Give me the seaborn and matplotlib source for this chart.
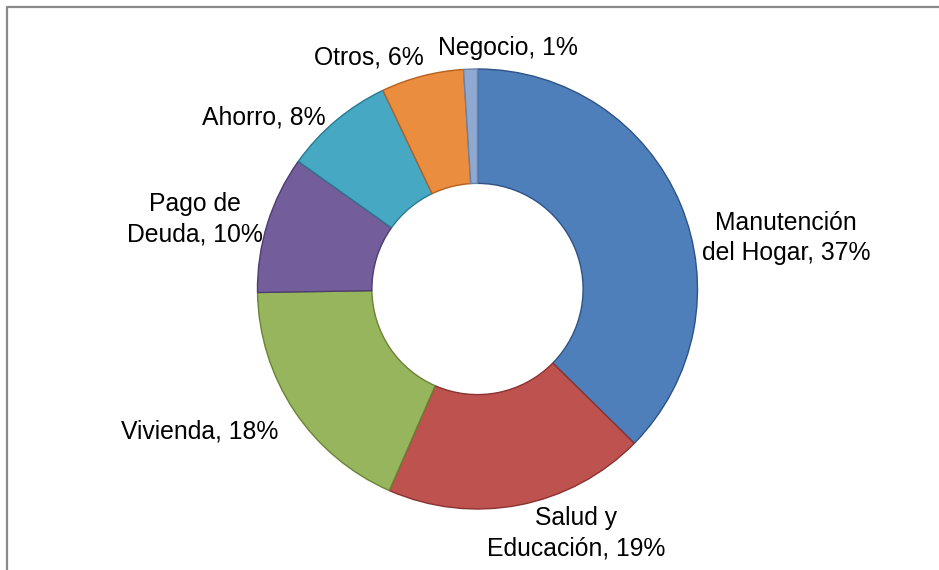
import matplotlib
matplotlib.use("Agg")
import matplotlib.pyplot as plt
from matplotlib.lines import Line2D
import seaborn as sns

# Data
categories = ["Manutención\ndel Hogar", "Salud y\nEducación", "Vivienda",
              "Pago de\nDeuda", "Ahorro", "Otros", "Negocio"]
values = [37, 19, 18, 10, 8, 6, 1]
colors = ["#4F7FBA", "#BE524F", "#97B55C", "#735D9A", "#47A8C4", "#EA8D3E", "#8FA9D3"]
edge_colors = ["#2E5385", "#8A3331", "#6A8436", "#4E3D70", "#2B7891", "#B5611F", "#6A82A8"]

# label anchor positions in pixel coords (x from left, y from top) of the 939x570 canvas
label_px = [(786, 238), (576, 533), (200, 432), (195, 219), (264, 118), (369, 57), (508, 48)]

sns.set_theme(style="white")
plt.rcParams["font.family"] = ["Liberation Sans", "DejaVu Sans"]

W, H, DPI = 939, 570, 100
fig = plt.figure(figsize=(W / DPI, H / DPI), dpi=DPI)
fig.patch.set_facecolor("white")

cx, cy, R = 477.5, 289.0, 220.0
ax = fig.add_axes([(cx - R) / W, (H - cy - R) / H, 2 * R / W, 2 * R / H])

wedges, _ = ax.pie(values, colors=colors, startangle=90, counterclock=False,
                   radius=1.0, wedgeprops=dict(width=0.52, linewidth=1.0))
for w, ec in zip(wedges, edge_colors):
    w.set_edgecolor(ec)
ax.set_xlim(-1, 1)
ax.set_ylim(-1, 1)
ax.set_aspect("equal")
ax.axis("off")

for (lbl, v, (px, py)) in zip(categories, values, label_px):
    x = (px - cx) / R
    y = (cy - py) / R
    ax.text(x, y, f"{lbl}, {v}%", ha="center", va="center", fontsize=17.8,
            color="black", linespacing=1.33, clip_on=False)

# frame lines (top and left only visible)
fig.add_artist(Line2D([7 / W, 7 / W], [0, 1 - 7 / H], transform=fig.transFigure,
                      color="#8A8A8A", linewidth=1.6))
fig.add_artist(Line2D([7 / W, 1], [1 - 7 / H, 1 - 7 / H], transform=fig.transFigure,
                      color="#8A8A8A", linewidth=1.6))

fig.savefig("out.png", dpi=DPI, facecolor="white")
